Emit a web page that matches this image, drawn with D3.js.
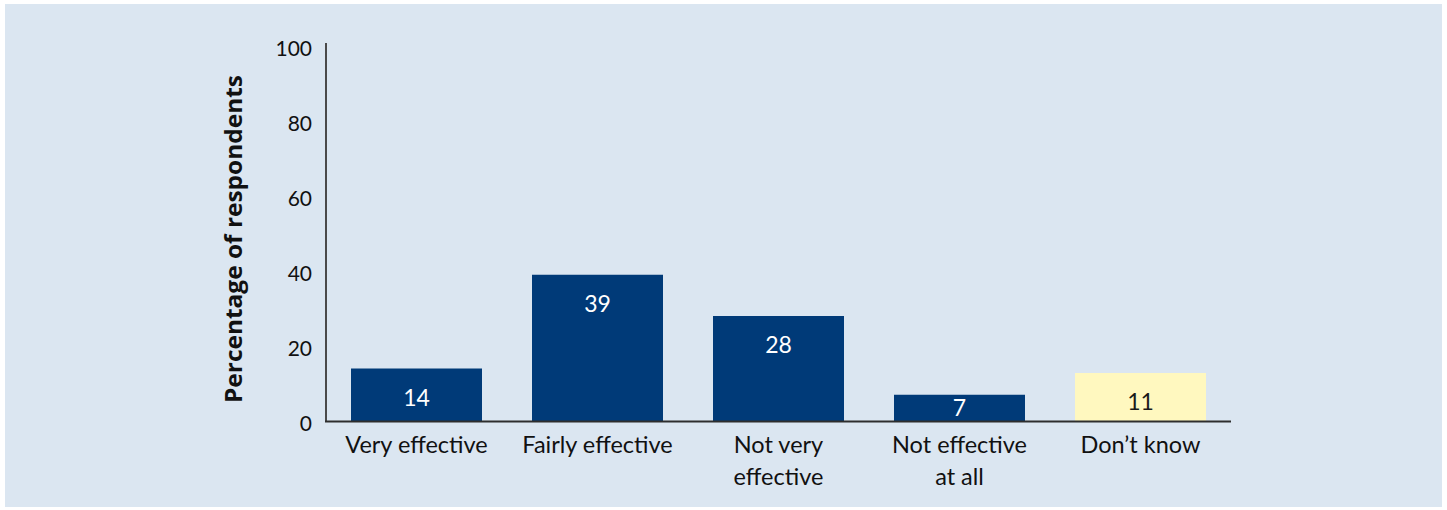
<!DOCTYPE html>
<html>
<head>
<meta charset="utf-8">
<script src="https://cdn.jsdelivr.net/npm/d3@7"></script>
<style>
  html, body { margin: 0; padding: 0; background: #ffffff; }
  svg { display: block; }
</style>
</head>
<body>
<svg id="chart" width="1447" height="510"></svg>
<script>
const categories = [["Very effective"], ["Fairly effective"], ["Not very", "effective"], ["Not effective", "at all"], ["Don\u2019t know"]];
const values = [14, 39, 28, 7, 12.8];
const valueLabels = ["14", "39", "28", "7", "11"];
const barColors = ["#003a78", "#003a78", "#003a78", "#003a78", "#fff8bf"];
const labelColors = ["#ffffff", "#ffffff", "#ffffff", "#ffffff", "#1a1a1a"];
const yTicks = [0, 20, 40, 60, 80, 100];
const yTitle = "Percentage of respondents";

const svg = d3.select("#chart");
const font = "Lato, 'Open Sans', sans-serif";

svg.append("rect").attr("x", 5).attr("y", 4).attr("width", 1437).attr("height", 503).attr("fill", "#dbe6f1");

const x0 = 326, x1 = 1231, yBase = 421, yTop = 46;
const x = d3.scaleBand().domain(d3.range(values.length)).range([x0, x1])
  .paddingInner(50 / 181).paddingOuter(25 / 181);
const y = d3.scaleLinear().domain([0, 100]).range([yBase, yTop]);

// bars
svg.selectAll("rect.bar").data(values).enter().append("rect")
  .attr("class", "bar")
  .attr("x", (d, i) => x(i))
  .attr("y", d => y(d))
  .attr("width", x.bandwidth())
  .attr("height", d => yBase - y(d))
  .attr("fill", (d, i) => barColors[i]);

// value labels
svg.selectAll("text.val").data(values).enter().append("text")
  .attr("class", "val")
  .attr("x", (d, i) => x(i) + x.bandwidth() / 2)
  .attr("y", d => (yBase - y(d) > 40 ? y(d) + 29 : (y(d) + yBase) / 2))
  .attr("dy", "0.36em")
  .attr("text-anchor", "middle")
  .attr("font-family", font)
  .attr("font-size", 23)
  .attr("fill", (d, i) => labelColors[i])
  .text((d, i) => valueLabels[i]);

// y axis
const yAxis = d3.axisLeft(y).tickValues(yTicks).tickSize(0).tickPadding(14);
const gy = svg.append("g").attr("transform", `translate(${x0},0)`).call(yAxis);
gy.select(".domain").remove();
gy.selectAll("text").attr("font-family", font).attr("font-size", 21).attr("fill", "#111").attr("dy", "0.45em");
svg.append("line").attr("x1", x0).attr("x2", x0).attr("y1", 43).attr("y2", yBase + 1)
  .attr("stroke", "#4a4a4a").attr("stroke-width", 2);

// x axis
const xAxis = d3.axisBottom(x).tickSize(0).tickFormat(() => "");
const gx = svg.append("g").attr("transform", `translate(0,${yBase})`).call(xAxis);
gx.select(".domain").remove();
svg.append("line").attr("x1", x0 - 1).attr("x2", x1).attr("y1", yBase + 0.5).attr("y2", yBase + 0.5)
  .attr("stroke", "#2e2e2e").attr("stroke-width", 2);

const xl = svg.selectAll("text.cat").data(categories).enter().append("text")
  .attr("class", "cat")
  .attr("x", (d, i) => x(i) + x.bandwidth() / 2)
  .attr("y", 453)
  .attr("text-anchor", "middle")
  .attr("font-family", font)
  .attr("font-size", 23.5)
  .attr("fill", "#111");
xl.each(function(d) {
  const t = d3.select(this);
  const cx = t.attr("x");
  d.forEach((line, k) => {
    t.append("tspan").attr("x", cx).attr("dy", k === 0 ? 0 : 32).text(line);
  });
});

// y title
svg.append("text")
  .attr("transform", `translate(242,239) rotate(-90)`)
  .attr("text-anchor", "middle")
  .attr("font-family", "'Open Sans', sans-serif")
  .attr("font-weight", "bold")
  .attr("font-size", 23)
  .attr("textLength", 328)
  .attr("lengthAdjust", "spacingAndGlyphs")
  .attr("fill", "#111")
  .text(yTitle);
</script>
</body>
</html>
